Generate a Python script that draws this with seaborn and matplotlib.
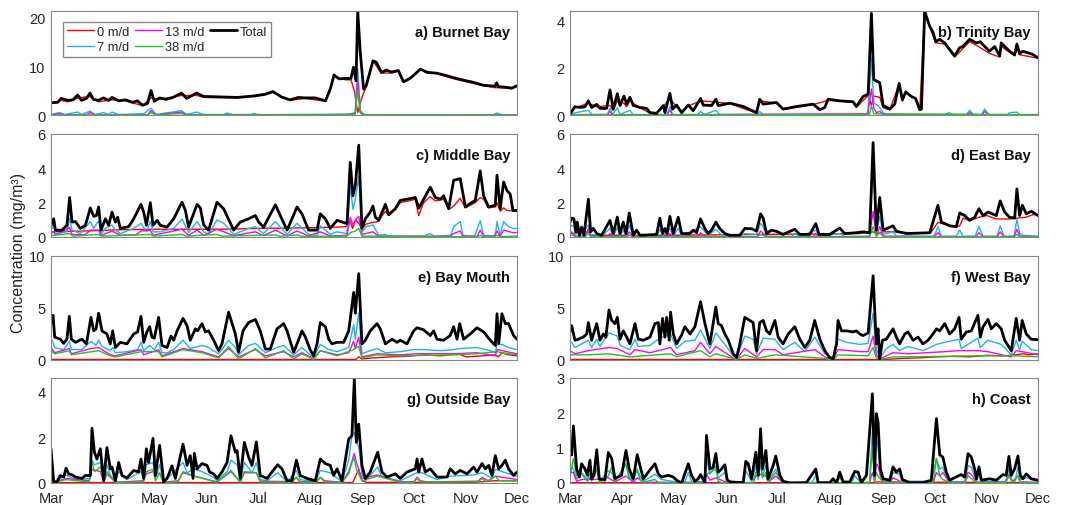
import numpy as np
import pandas as pd
import matplotlib
matplotlib.use("Agg")
import matplotlib.pyplot as plt
import matplotlib.dates as mdates
import seaborn as sns

# ---------------- data: (day since 1 Mar, concentration mg/m3) ----------------
A_TOTAL = [(0,2.5),(4,2.6),(6,3.4),(10,3.0),(13,3.1),(15.7,4.1),(18,3.0),(21,3.4),(23,4.5),(25,3.2),(28,3.0),(31,3.5),(34,3.0),(36,3.6),(40,2.9),(44,3.1),(48,2.6),(51,2.9),(54,2.0),(57,2.4),(59,5.0),(61,2.8),(64,3.5),(68,3.2),(72,3.6),(77,4.5),(80,3.4),(86,4.5),(90,3.8),(100,3.7),(110,3.6),(120,3.9),(126,4.2),(131,4.8),(136,3.7),(141,3.1),(146,3.6),(150,3.5),(156,3.5),(162,2.9),(165,5.5),(167,8.2),(170,7.4),(174,7.5),(177,7.5),(178.5,9.8),(180,7.0),(181,21.4),(182.5,12.8),(184.5,5.3),(186,6.0),(190,11.1),(192,10.8),(195,8.7),(198,9.2),(201,8.8),(205,9.1),(208,6.8),(212,7.5),(218,9.4),(222,8.7),(227,8.6),(232,8.2),(238,7.6),(245,7.0),(248,6.8),(250,6.6),(255,6.1),(262,5.9),(263,6.6),(264,5.8),(268,5.7),(272,5.5),(275,6.0)]
A_R0 = [(0,2.3),(6,3.0),(10,2.7),(15.7,3.5),(23,3.8),(28,2.7),(36,3.1),(44,2.9),(54,1.9),(59,3.5),(64,3.2),(77,4.0),(86,4.0),(90,3.6),(110,3.5),(131,4.6),(141,3.0),(150,3.4),(162,2.8),(167,7.8),(174,7.2),(177,7.2),(179,5.0),(181,0.5),(183,3.0),(184.5,4.5),(186,5.8),(190,11.0),(195,8.6),(201,8.6),(205,9.0),(208,6.7),(218,9.3),(227,8.5),(238,7.4),(245,6.8),(255,6.0),(262,5.6),(264,5.6),(272,5.4),(275,5.9)]
A_C7 = [(0,0.1),(5,0.5),(8,0.1),(15.7,0.6),(18,0.1),(23,0.8),(26,0.1),(31,0.5),(34,0.1),(36,0.6),(40,0.1),(50,0.2),(55,0.3),(59,1.4),(62,0.1),(77,0.9),(80,0.1),(86,0.6),(90,0.1),(102,0.1),(104,0.4),(107,0.1),(118,0.1),(120,0.3),(123,0.05),(150,0.1),(160,0.1),(176,0.2),(179.5,0.5),(181,9.5),(182.5,1.0),(184,0.3),(186,0.05),(230,0.05),(261,0.05),(263,0.4),(266,0.05),(275,0.05)]
A_M13 = [(0,0.05),(5,0.3),(8,0.05),(21,0.05),(23,0.5),(26,0.05),(57,0.05),(59,0.9),(62,0.05),(77,0.6),(80,0.05),(176,0.1),(179.5,0.3),(181,7.0),(182.5,0.6),(184,0.1),(186,0.02),(275,0.02)]
A_G38 = [(0,0.02),(57,0.02),(59,0.5),(62,0.02),(77,0.3),(80,0.02),(177,0.05),(179.5,0.2),(181,5.0),(182.5,0.4),(184,0.05),(275,0.02)]

B_TOTAL = [(0,0.05),(2.9,0.35),(5.9,0.32),(8.8,0.35),(10.8,0.6),(12.7,0.32),(15.7,0.45),(17.6,0.28),(21.5,0.28),(23.5,1.06),(25.4,0.25),(27.8,0.9),(29.4,0.4),(31.7,0.8),(33.3,0.46),(35.2,0.75),(37.2,0.4),(41.1,0.32),(45,0.28),(47,0.1),(50.9,0.07),(54.8,0.4),(55.8,0.1),(58.7,0.92),(60.3,0.25),(62.6,0.42),(65.6,0.1),(69.5,0.42),(72.4,0.18),(76.7,0.7),(78.3,0.42),(83.2,0.4),(85.7,0.67),(87.1,0.4),(93.9,0.5),(101.8,0.36),(109.6,0.1),(111.5,0.67),(113.5,0.46),(121.3,0.53),(125.2,0.25),(133.1,0.36),(142.9,0.46),(146.8,0.22),(149.7,0.32),(151.7,0.67),(158.5,0.6),(166.3,0.56),(168.3,0.36),(172.2,0.78),(175.2,0.88),(177.1,4.3),(178.5,1.5),(180,1.44),(182,1.37),(184,0.4),(187.9,0.25),(190.8,0.46),(193.4,1.34),(195.3,0.64),(197.3,0.98),(200.6,0.78),(203.1,0.7),(205.5,0.22),(206.5,0.25),(208.4,4.38),(211.4,3.75),(213.3,3.5),(214.9,3.1),(217.2,3.2),(220.2,3.05),(223.1,2.77),(226,2.5),(229,2.85),(230.9,2.9),(234.8,3.2),(238.8,3.05),(241.1,3.1),(243.6,2.9),(246.6,2.7),(249.5,2.9),(252.5,2.5),(253.4,3.05),(255.4,2.9),(258.3,2.7),(261.3,2.55),(262.6,3.0),(264.2,2.6),(266.1,2.7),(269.1,2.63),(272,2.56),(275,2.42)]
B_R0 = [(0,0.05),(3,0.3),(10.8,0.5),(15.7,0.35),(23.5,0.4),(25.4,0.2),(27.8,0.6),(31.7,0.5),(33.3,0.35),(35.2,0.6),(41.1,0.3),(47,0.08),(51,0.06),(54.8,0.35),(58.7,0.7),(62.6,0.35),(65.6,0.08),(69.5,0.38),(76.7,0.6),(85.7,0.55),(93.9,0.48),(109.6,0.08),(111.5,0.6),(121.3,0.5),(125.2,0.23),(142.9,0.44),(151.7,0.62),(166.3,0.54),(168.3,0.33),(175.2,0.82),(177.1,0.4),(178.5,0.8),(182,0.75),(184,0.3),(187.9,0.22),(193.4,1.3),(195.3,0.6),(197.3,0.95),(203.1,0.68),(205.5,0.2),(208.4,4.3),(214.9,3.05),(220.2,3.0),(226,2.45),(234.8,3.1),(238.8,2.95),(246.6,2.6),(252.5,2.45),(253.4,2.9),(261.3,2.5),(262.6,2.85),(264.2,2.55),(275,2.4)]
B_C7 = [(0,0.05),(10.8,0.2),(13,0.02),(22,0.02),(23.5,0.3),(25,0.02),(27.8,0.3),(29.5,0.02),(35.2,0.2),(37,0.02),(57,0.02),(58.7,0.35),(60.3,0.02),(75,0.02),(76.7,0.15),(79,0.02),(85.7,0.2),(88,0.02),(110,0.02),(111.5,0.15),(113.5,0.02),(173,0.02),(175,0.1),(177.1,2.4),(178.5,0.5),(181,0.4),(184,0.1),(186,0.02),(220,0.02),(223,0.1),(225,0.02),(233,0.02),(234.8,0.2),(237,0.02),(242,0.02),(243.6,0.25),(246,0.02),(257,0.02),(258.3,0.1),(262.6,0.12),(264,0.02),(275,0.02)]
B_M13 = [(0,0.02),(22,0.02),(23.5,0.15),(25,0.01),(57,0.01),(58.7,0.2),(60.3,0.01),(175,0.05),(177.1,1.1),(178.5,0.3),(180,0.1),(182,0.15),(184,0.02),(233,0.01),(234.8,0.1),(237,0.01),(242,0.01),(243.6,0.15),(246,0.01),(275,0.01)]
B_G38 = [(0,0.01),(176,0.02),(177.1,0.4),(178.5,0.05),(275,0.01)]

C_TOTAL = [(0,0.68),(1.6,1.06),(2.6,0.4),(6.5,0.4),(9.4,0.68),(11,2.3),(12.4,0.87),(14.4,0.9),(17.3,0.5),(20.3,0.68),(23.2,1.7),(25.2,1.2),(26.8,1.25),(28.1,1.75),(29.5,0.4),(32.1,1.06),(34,0.68),(36,1.45),(38,0.87),(39.3,1.15),(40.9,0.5),(45.8,0.6),(48.8,1.06),(53.1,1.9),(54.7,1.45),(56.3,0.68),(58.6,2.0),(60.2,0.68),(62.6,0.97),(64.5,0.68),(68.5,0.58),(72.4,1.06),(77.3,2.03),(79.3,1.55),(81.2,0.58),(86.2,1.9),(88.1,1.7),(90.1,0.7),(93,0.4),(98,2.03),(101.9,1.64),(107.8,0.4),(111.7,0.87),(116.6,1.06),(120.6,1.25),(122.5,0.87),(125.5,0.58),(132.4,1.88),(135.3,1.25),(139.3,0.4),(145.2,1.75),(148.1,1.35),(152,0.4),(157,0.4),(158.9,1.35),(161.9,1.06),(164.8,0.5),(168.8,0.97),(174.7,0.78),(176.6,4.35),(178.2,2.4),(179.6,3.0),(181.6,5.35),(183.5,0.5),(185.5,1.06),(188.4,1.45),(190,1.8),(191.4,1.16),(193.4,0.97),(197.3,1.9),(199.3,1.3),(203.2,1.65),(206.1,2.13),(211.1,2.22),(215,2.3),(217,1.68),(219.9,2.2),(223.8,2.9),(226.8,2.3),(229.7,2.2),(231.7,2.4),(234.7,1.65),(237.6,3.3),(241.5,3.4),(244.5,1.75),(247.4,1.95),(250.4,2.13),(253.3,3.85),(255.3,2.4),(258.2,1.75),(262.2,1.85),(263.2,3.6),(265.1,1.65),(267.1,3.2),(269.1,2.7),(271,2.5),(272.6,1.55),(275,1.55)]
C_R0 = [(0,0.3),(20,0.35),(40,0.42),(60,0.45),(80,0.45),(100,0.45),(120,0.5),(140,0.52),(160,0.55),(174,0.6),(176.6,0.9),(178,0.5),(179.6,1.0),(181.6,0.8),(183.5,0.5),(186,0.75),(190,0.85),(193,0.9),(197.3,1.5),(199.3,1.25),(203.2,1.6),(206.1,2.0),(211.1,2.1),(215,2.2),(217,1.25),(219.9,2.0),(223.8,2.35),(226.8,2.1),(231.7,2.2),(234.7,1.6),(237.6,1.8),(241.5,2.25),(244.5,1.7),(250.4,2.0),(253.3,2.3),(255.3,2.2),(258.2,1.7),(262.2,1.75),(263.2,2.0),(265.1,1.5),(267.1,1.7),(269.1,1.55),(275,1.5)]
C_C7 = [(0,0.4),(1.6,0.7),(2.6,0.2),(9.4,0.3),(11,1.1),(12.4,0.4),(17.3,0.2),(23.2,0.9),(25.2,0.5),(28.1,0.95),(29.5,0.15),(32.1,0.5),(36,0.7),(38,0.4),(40.9,0.2),(48.8,0.5),(53.1,0.8),(56.3,0.3),(58.6,0.9),(60.2,0.3),(64.5,0.3),(72.4,0.5),(77.3,1.05),(81.2,0.25),(86.2,0.9),(90.1,0.3),(93,0.15),(98,1.0),(101.9,0.8),(107.8,0.15),(116.6,0.5),(120.6,0.6),(125.5,0.2),(132.4,0.9),(139.3,0.15),(145.2,0.8),(152,0.15),(157,0.1),(158.9,0.65),(164.8,0.15),(168.8,0.3),(174.7,0.2),(176.6,3.0),(178.2,1.6),(179.6,2.2),(181.6,3.5),(183.5,0.3),(186,0.6),(190,0.7),(193.4,0.1),(197.3,0.15),(199.3,0.05),(220,0.05),(223.8,0.2),(226,0.05),(236,0.1),(237.6,0.6),(241.5,0.9),(243,0.1),(250,0.05),(253.3,0.95),(255.3,0.1),(262.2,0.05),(263.2,0.9),(265,0.1),(267.1,0.9),(270,0.6),(272.6,0.5),(275,0.5)]
C_M13 = [(0,0.2),(1.6,0.3),(2.6,0.1),(11,0.55),(12.4,0.15),(20,0.12),(23.2,0.4),(28.1,0.4),(29.5,0.08),(36,0.35),(40.9,0.1),(50,0.12),(53.1,0.35),(58.6,0.4),(60.2,0.1),(77.3,0.45),(81.2,0.1),(86.2,0.4),(90.1,0.1),(98,0.45),(107.8,0.08),(120.6,0.3),(125.5,0.08),(132.4,0.4),(139.3,0.06),(145.2,0.35),(152,0.06),(158.9,0.3),(164.8,0.06),(174.7,0.1),(176.6,1.15),(178.2,0.7),(179.6,1.0),(181.6,1.2),(183.5,0.15),(190,0.3),(193.4,0.04),(235.5,0.04),(237.6,0.2),(241.5,0.35),(243,0.04),(251.5,0.04),(253.3,0.4),(255.3,0.04),(261.5,0.04),(263.2,0.35),(265,0.04),(267.1,0.4),(272.6,0.25),(275,0.25)]
C_G38 = [(0,0.08),(11,0.2),(13,0.05),(28.1,0.15),(30,0.05),(58.6,0.15),(60.5,0.05),(77.3,0.15),(79.5,0.05),(98,0.15),(101,0.05),(132.4,0.12),(135,0.04),(145.2,0.12),(148,0.04),(174.7,0.05),(176.6,0.25),(179.6,0.35),(181.6,0.5),(183.5,0.05),(230,0.02),(251.5,0.02),(253.3,0.1),(255,0.02),(261.5,0.02),(263.2,0.1),(265,0.03),(275,0.05)]

D_TOTAL = [(0,0.87),(1,1.1),(2.3,1.05),(3.5,0.3),(4.3,0.87),(5.5,0.1),(6.8,0.58),(8.2,0.1),(10.8,2.2),(12.1,0.3),(13.7,0.5),(15.7,0.2),(18.6,0.1),(23.5,0.97),(25.4,0.2),(27.8,1.16),(29.4,0.2),(31.3,0.87),(32.9,0.2),(34.8,1.4),(37.2,0.1),(39.1,0.4),(41.1,0.1),(50.9,0.15),(52.8,1.1),(54.4,0.2),(55.8,0.5),(57.1,0.2),(58.7,1.2),(60.7,0.2),(63.6,1.15),(65.6,0.2),(70.5,0.2),(72.4,0.4),(74.4,0.25),(76.7,1.06),(79.3,0.48),(81.2,0.2),(83.2,0.4),(85.7,0.87),(88.1,0.48),(91,0.2),(93.9,0.1),(99.8,0.1),(102.7,0.5),(106.7,0.48),(109.6,0.35),(112,1.35),(113.5,1.1),(115.5,0.2),(118.4,0.4),(121.3,0.33),(125.2,0.15),(132.1,0.45),(135,0.15),(140.9,0.15),(144.4,0.78),(146.4,0.15),(152.6,0.15),(158.5,0.52),(161.5,0.2),(168.3,0.25),(172.2,0.3),(176.1,0.25),(178.1,5.5),(180,0.4),(182,2.3),(184,0.4),(189.8,0.65),(191.8,0.33),(197.7,0.2),(211.4,0.25),(216.2,1.85),(218.2,0.87),(223.1,0.65),(227,0.6),(229,1.4),(231.9,1.25),(234.8,0.97),(237.8,1.15),(240.3,1.65),(242.7,1.25),(245.6,1.45),(250.5,1.25),(252.8,2.1),(255.4,1.45),(258.3,1.15),(261.3,1.1),(262.6,2.8),(264.2,1.25),(265.8,1.85),(268.1,1.35),(271.1,1.5),(275,1.25)]
D_R0 = [(0,0.2),(10.8,0.3),(12,0.1),(60,0.1),(112,0.15),(170,0.2),(178.1,0.3),(180,0.2),(184,0.3),(190,0.3),(200,0.25),(212,0.25),(216.2,0.85),(220,0.75),(227,0.6),(229,0.65),(231,1.1),(235,0.95),(240.3,1.15),(245,1.25),(250.5,1.05),(253,1.05),(258,1.05),(262.6,1.1),(268,1.15),(272,1.3),(275,1.3)]
D_C7 = [(0,0.7),(2.3,0.6),(3.5,0.15),(4.3,0.5),(5.5,0.05),(10.8,0.7),(12.1,0.15),(18.6,0.05),(23.5,0.5),(25.4,0.05),(27.8,0.55),(29.4,0.05),(31.3,0.4),(32.9,0.05),(34.8,0.7),(37.2,0.05),(50.9,0.05),(52.8,0.45),(54.4,0.05),(58.7,0.5),(60.7,0.05),(63.6,0.5),(65.6,0.05),(76.7,0.6),(79.3,0.3),(81.2,0.1),(85.7,0.45),(88.1,0.2),(91,0.05),(100,0.05),(102.7,0.2),(109.6,0.15),(112,0.8),(113.5,0.6),(115.5,0.05),(130,0.03),(132.1,0.2),(135,0.03),(144.4,0.4),(146.4,0.03),(158.5,0.2),(161.5,0.03),(176,0.05),(178.1,4.5),(180,0.2),(182,1.2),(184,0.15),(189.8,0.3),(192,0.05),(214,0.05),(216.2,0.6),(218.2,0.05),(227,0.05),(229,0.4),(231,0.05),(238,0.05),(240.3,0.6),(242.7,0.05),(251,0.05),(252.8,0.65),(255,0.05),(261,0.05),(262.6,1.05),(264.2,0.2),(266,0.1),(275,0.05)]
D_M13 = [(0,0.35),(3.5,0.05),(9,0.05),(10.8,0.5),(12.1,0.05),(22,0.02),(23.5,0.2),(25.4,0.02),(33,0.02),(34.8,0.3),(37.2,0.02),(57,0.02),(58.7,0.2),(60.7,0.02),(75,0.02),(76.7,0.25),(79.3,0.02),(110,0.02),(112,0.35),(115.5,0.02),(142.5,0.02),(144.4,0.15),(146.4,0.02),(176,0.02),(178.1,1.5),(180,0.1),(182,0.6),(184,0.05),(214,0.02),(216.2,0.25),(218.2,0.02),(238.5,0.02),(240.3,0.25),(242.7,0.02),(251,0.02),(252.8,0.3),(255,0.02),(261,0.02),(262.6,0.45),(264.2,0.05),(275,0.02)]
D_G38 = [(0,0.15),(3.5,0.02),(9,0.02),(10.8,0.2),(12.1,0.02),(33,0.01),(34.8,0.1),(37.2,0.01),(110,0.01),(112,0.15),(115.5,0.01),(176,0.01),(178.1,0.6),(180,0.03),(182,0.25),(184,0.02),(261,0.01),(262.6,0.15),(264,0.01),(275,0.01)]

E_TOTAL = [(0,3.5),(1.2,4.3),(2.2,2.2),(5.5,2.0),(7.5,1.6),(9.4,2.0),(10.8,4.2),(12,2.0),(14.4,1.7),(18.3,2.0),(20.9,1.55),(23.6,4.1),(25.2,2.8),(26.6,3.0),(28.1,4.5),(30.1,2.8),(33,2.5),(35,1.55),(36.4,2.8),(38,1.2),(40.9,1.7),(44.8,1.55),(48.8,2.5),(51.1,2.7),(53.1,4.2),(54.7,1.7),(56.6,2.7),(58.2,3.2),(59.6,2.2),(61,2.1),(63.5,4.1),(65.5,1.4),(68.5,1.2),(70.8,2.3),(72.4,1.9),(74.4,2.8),(77.9,4.0),(80.3,3.3),(82.2,1.9),(85.2,3.0),(86.5,2.8),(89.1,3.5),(91.1,2.7),(93,2.8),(96,1.9),(98.9,0.9),(100.9,1.55),(104.8,4.6),(108.8,2.5),(110.7,0.75),(113.3,2.8),(116.6,3.6),(120.6,3.9),(123.5,2.8),(126.5,1.05),(129.4,1.05),(133.4,3.0),(137.3,3.5),(139.3,2.8),(143.2,0.75),(145.2,1.55),(148.1,2.8),(150.1,2.2),(153,0.97),(155,0.4),(157,1.55),(158.9,3.6),(161.9,3.2),(163.9,2.0),(165.8,1.55),(168.8,1.7),(172.7,1.7),(175.7,2.8),(178.6,6.5),(179.6,4.5),(181.6,8.3),(183.5,1.55),(185.5,1.9),(188.4,2.8),(192.4,3.5),(194.3,3.0),(197.3,1.55),(201.2,2.0),(204.2,1.7),(206.1,1.9),(210.1,1.55),(214,2.8),(216,3.1),(219.9,2.9),(223.8,2.35),(225.8,2.8),(227.8,2.0),(231.7,1.9),(235.6,2.35),(237.6,3.2),(239.6,2.0),(241.2,3.5),(243.5,2.0),(247.4,2.5),(251.4,3.1),(255.3,2.7),(259.2,1.9),(262.2,1.4),(263.2,4.45),(264.2,1.6),(266.1,4.45),(268.1,3.5),(270,3.5),(273,2.35),(275,2.0)]
E_R0 = [(0,0.05),(180,0.05),(181.6,0.3),(183.5,0.1),(190,0.2),(200,0.3),(210,0.35),(220,0.5),(230,0.4),(240,0.6),(245,0.3),(255,0.4),(262,0.5),(264,0.3),(266,0.7),(270,0.5),(275,0.4)]
E_C7 = [(0,2.0),(1.2,1.7),(2.2,1.2),(7.5,1.0),(10.8,1.8),(12,1.0),(18.3,1.0),(23.6,1.8),(26.6,1.4),(28.1,1.9),(30.1,1.3),(35,0.9),(36.4,1.2),(38,0.7),(44.8,0.8),(51.1,1.0),(53.1,1.7),(54.7,0.9),(58.2,1.4),(61,1.0),(63.5,1.7),(65.5,0.7),(68.5,0.7),(72.4,1.0),(77.9,1.9),(82.2,1.1),(89.1,1.4),(93,1.2),(98.9,0.6),(104.8,1.9),(108.8,1.2),(110.7,0.5),(116.6,1.4),(120.6,1.6),(126.5,0.7),(133.4,1.2),(137.3,1.4),(143.2,0.5),(148.1,1.2),(153,0.5),(155,0.3),(158.9,1.5),(163.9,1.0),(168.8,0.8),(175.7,1.2),(178.6,3.4),(179.6,2.0),(181.6,4.5),(183.5,0.6),(188.4,0.9),(192.4,1.1),(197.3,0.7),(206.1,0.8),(214,1.0),(220,1.0),(230,0.9),(237.6,1.0),(241.2,1.1),(251.4,1.2),(259.2,0.9),(262.2,0.7),(263.2,1.5),(266.1,1.5),(270,1.2),(275,1.0)]
E_M13 = [(0,1.2),(2.2,0.7),(10.8,1.1),(12,0.6),(23.6,1.1),(28.1,1.2),(35,0.5),(38,0.4),(53.1,1.0),(54.7,0.5),(63.5,1.0),(65.5,0.4),(77.9,1.1),(89.1,0.8),(98.9,0.3),(104.8,1.1),(110.7,0.3),(120.6,1.0),(126.5,0.4),(137.3,0.8),(143.2,0.3),(148.1,0.7),(155,0.15),(158.9,0.9),(168.8,0.5),(175.7,0.7),(178.6,1.8),(179.6,1.1),(181.6,2.2),(183.5,0.3),(192.4,0.6),(206.1,0.5),(216,0.6),(237.6,0.6),(251.4,0.7),(262.2,0.4),(263.2,1.0),(266.1,0.9),(275,0.6)]
E_G38 = [(0,0.9),(2.2,0.6),(10.8,0.9),(12,0.5),(28.1,0.9),(35,0.4),(38,0.3),(53.1,0.8),(63.5,0.8),(65.5,0.3),(77.9,1.0),(89.1,0.7),(98.9,0.2),(104.8,1.3),(110.7,0.1),(120.6,1.1),(126.5,0.2),(137.3,0.9),(143.2,0.1),(148.1,0.6),(155,0.05),(158.9,0.9),(168.8,0.4),(178.6,1.0),(181.6,1.3),(183.5,0.2),(192.4,0.5),(206.1,0.4),(237.6,0.5),(251.4,0.6),(263.2,0.8),(266.1,0.7),(275,0.5)]

F_TOTAL = [(0,2.7),(1,3.3),(2.9,1.9),(4.9,2.0),(7.8,2.2),(9.8,2.5),(10.8,3.6),(12.7,1.9),(15.7,3.5),(17.6,1.9),(19.6,2.5),(21.1,2.2),(22.9,4.8),(24.5,3.8),(26.4,3.5),(27.8,4.1),(29.4,2.0),(31.3,2.8),(33.3,2.2),(35.2,1.55),(38.2,3.5),(40.1,2.0),(43.1,1.9),(47,2.2),(49.9,3.5),(51.9,3.6),(52.8,1.55),(54.4,4.0),(55.8,2.2),(56.8,4.1),(58.3,1.9),(59.1,4.6),(60.7,2.5),(62.6,1.55),(65.6,2.4),(67.5,3.2),(70.5,2.5),(73.4,3.2),(76.7,5.6),(79.3,3.5),(82.2,1.55),(83.8,3.2),(85.7,5.1),(87.1,3.5),(89,3.3),(91,2.5),(93,1.9),(95.9,0.6),(97.9,0.25),(99.8,1.55),(102.7,4.1),(105.7,3.8),(107.6,3.6),(109.6,0.9),(111.5,3.6),(113.5,3.8),(115.5,2.8),(117.4,2.5),(120.4,3.8),(122.3,2.2),(125.2,1.55),(128.2,2.5),(132.1,3.2),(135,2.0),(138,1.2),(140.9,1.9),(143.8,3.8),(146.8,2.0),(149.7,0.9),(152.6,0.25),(154.6,0.1),(156.6,1.55),(157.5,3.8),(159.5,2.8),(162.4,2.8),(166.3,2.7),(168.3,2.8),(170.3,2.5),(172.2,2.35),(175.2,2.6),(178.1,8.1),(180,1.55),(181,3.0),(182,0.1),(183.6,1.9),(185.9,2.0),(189.8,3.0),(191.8,2.2),(193.7,1.55),(196.7,2.5),(198.6,2.7),(201.6,1.9),(204.5,2.2),(207.4,1.55),(210.4,1.9),(213.3,2.5),(215.3,3.0),(217.2,2.8),(220.2,3.5),(223.1,2.5),(226,3.0),(228.6,4.1),(229.9,2.0),(232.9,2.7),(235.8,2.8),(239.7,4.3),(241.1,2.2),(242.7,3.2),(245.6,3.9),(247.6,3.0),(250.5,3.5),(253.4,3.0),(255.4,1.9),(259.3,0.9),(262.2,4.0),(264.2,1.9),(265.7,3.8),(268.1,2.5),(271,2.0),(275,1.95)]
F_R0 = [(0,0.05),(185,0.05),(195,0.15),(205,0.2),(215,0.3),(225,0.35),(235,0.3),(245,0.45),(255,0.4),(262,0.5),(266,0.6),(270,0.5),(275,0.6)]
F_C7 = [(0,1.8),(1,1.7),(2.9,1.2),(10.8,1.9),(12.7,1.2),(15.7,2.0),(17.6,1.3),(22.9,2.6),(27.8,2.3),(29.4,1.4),(35.2,1.0),(38.2,2.0),(40.1,1.3),(47,1.4),(51.9,2.0),(54.4,2.2),(59.1,2.5),(62.6,1.1),(67.5,1.8),(73.4,1.9),(76.7,2.9),(82.2,1.1),(85.7,2.6),(91,1.5),(95.9,0.4),(97.9,0.2),(102.7,2.3),(107.6,2.0),(109.6,0.6),(113.5,2.1),(120.4,2.0),(125.2,1.0),(132.1,1.7),(138,0.8),(143.8,2.2),(149.7,0.6),(154.6,0.1),(157.5,2.0),(162.4,1.7),(170.3,1.5),(175.2,1.6),(178.1,4.5),(180,1.0),(182,0.2),(185.9,1.1),(189.8,1.5),(193.7,0.9),(198.6,1.3),(207.4,0.9),(215.3,1.5),(220.2,1.7),(228.6,2.0),(229.9,1.1),(239.7,2.1),(241.1,1.2),(245.6,1.9),(253.4,1.5),(259.3,0.5),(262.2,1.9),(264.2,1.0),(265.7,1.8),(271,1.0),(275,0.9)]
F_M13 = [(0,0.9),(2.9,0.6),(10.8,0.9),(22.9,1.2),(27.8,1.1),(35.2,0.5),(38.2,1.0),(47,0.7),(54.4,1.0),(59.1,1.2),(62.6,0.5),(73.4,0.9),(76.7,1.7),(82.2,0.6),(85.7,1.3),(95.9,0.2),(97.9,0.1),(102.7,1.1),(109.6,0.3),(113.5,1.0),(120.4,1.0),(125.2,0.5),(143.8,1.0),(149.7,0.3),(154.6,0.05),(157.5,1.0),(170.3,0.8),(175.2,0.8),(178.1,2.3),(180,0.5),(182,0.1),(189.8,0.7),(198.6,0.6),(220.2,0.8),(228.6,0.9),(239.7,0.9),(245.6,0.8),(259.3,0.3),(262.2,0.9),(265.7,0.8),(275,0.5)]
F_G38 = [(0,0.5),(10.8,0.5),(22.9,0.6),(35.2,0.3),(59.1,0.6),(62.6,0.3),(76.7,0.9),(82.2,0.3),(85.7,0.6),(97.9,0.05),(102.7,0.5),(109.6,0.15),(120.4,0.5),(149.7,0.15),(154.6,0.02),(157.5,0.5),(175.2,0.4),(178.1,1.2),(180,0.2),(182,0.05),(189.8,0.3),(220.2,0.35),(239.7,0.4),(262.2,0.4),(275,0.3)]

G_TOTAL = [(0,1.5),(1.6,0.05),(3.5,0.05),(5.5,0.33),(7.5,0.26),(8.9,0.65),(10.4,0.4),(12.4,0.36),(14.4,0.26),(18.3,0.2),(20.3,0.33),(23.2,0.33),(24.2,2.4),(25.6,1.35),(27.1,1.05),(29.1,1.5),(31.1,0.1),(33,1.55),(35,0.62),(36,0.7),(38,0.1),(39.9,0.9),(41.9,0.33),(44.8,0.22),(48.8,0.55),(51.7,0.48),(53.1,1.05),(54.7,0.2),(56.3,1.5),(57.6,0.9),(60.2,1.95),(61.6,0.33),(64.1,1.65),(66.5,0.05),(68.5,0.2),(71.4,0.75),(73.4,0.2),(77.9,1.7),(80.3,0.77),(82.2,1.2),(83.8,0.2),(84.6,1.3),(86.2,0.62),(89.1,0.85),(92.1,0.77),(93.6,0.48),(96,0.4),(98,0.2),(100.9,0.48),(103.9,0.9),(106.2,2.07),(108.8,1.35),(109.8,1.42),(111.7,0.2),(114.1,1.78),(116.6,1.13),(118.6,0.77),(121.2,1.8),(123.5,0.33),(127.5,0.2),(130.4,0.48),(133.8,0.8),(136.3,0.62),(139.3,0.1),(142.2,0.1),(144.8,1.0),(147.1,0.33),(151.1,0.2),(156,0.1),(158.9,1.05),(161.9,0.85),(164.8,0.77),(166.8,0.33),(168.8,0.62),(171.7,0.1),(175.7,1.93),(177.6,2.07),(179,4.58),(180.2,1.78),(181.6,2.58),(183.5,0.77),(185.5,0.2),(188.4,0.48),(192.8,1.35),(195.3,0.48),(198.3,0.26),(203.2,0.4),(206.1,0.2),(210.1,0.48),(215,0.62),(216,1.05),(217,0.48),(218.9,1.05),(220.9,0.48),(223.8,0.62),(227.8,0.26),(233.7,0.26),(235.6,0.62),(238.6,0.4),(241.5,0.55),(245.5,0.4),(249.4,0.7),(251.4,0.48),(254.4,0.85),(256.3,0.62),(258.3,0.77),(260.2,0.33),(262.2,1.2),(264.2,0.62),(266.1,0.77),(268.1,1.0),(270,0.62),(273,0.33),(275,0.48)]
G_R0 = [(0,0.02),(178,0.02),(181.6,0.6),(183.5,0.1),(186,0.03),(250,0.03),(262,0.1),(275,0.1)]
G_C7 = [(0,0.6),(1.6,0.05),(5.5,0.2),(8.9,0.35),(14.4,0.15),(23.2,0.2),(24.2,1.0),(25.6,0.8),(29.1,0.9),(31.1,0.1),(33,0.8),(35,0.35),(38,0.05),(39.9,0.5),(44.8,0.15),(53.1,0.5),(54.7,0.1),(56.3,0.8),(60.2,0.9),(61.6,0.2),(64.1,0.8),(66.5,0.05),(71.4,0.4),(77.9,0.9),(80.3,0.45),(84.6,0.6),(89.1,0.5),(96,0.25),(98,0.1),(103.9,0.5),(106.2,1.0),(109.8,0.8),(111.7,0.1),(114.1,0.9),(118.6,0.45),(121.2,0.9),(123.5,0.15),(127.5,0.1),(133.8,0.45),(139.3,0.05),(144.8,0.55),(147.1,0.15),(156,0.05),(158.9,0.55),(164.8,0.45),(171.7,0.05),(175.7,1.0),(177.6,2.1),(179,2.2),(180.2,1.8),(181.6,1.6),(183.5,0.4),(185.5,0.1),(192.8,0.7),(195.3,0.25),(206.1,0.1),(216,0.45),(218.9,0.45),(227.8,0.15),(235.6,0.3),(249.4,0.35),(254.4,0.45),(260.2,0.2),(262.2,0.6),(268.1,0.45),(275,0.3)]
G_M13 = [(0,0.4),(1.6,0.03),(8.9,0.2),(22.5,0.1),(24.2,0.6),(29.1,0.5),(31.1,0.05),(33,0.4),(38,0.03),(54.5,0.1),(56.3,0.4),(60.2,0.5),(64.1,0.4),(66.5,0.03),(75,0.1),(77.9,0.45),(84.6,0.3),(98,0.05),(106.2,0.5),(111.7,0.05),(114.1,0.45),(121.2,0.45),(123.5,0.08),(142,0.06),(144.8,0.25),(147,0.06),(156.5,0.05),(158.9,0.25),(161.5,0.1),(171.7,0.03),(175.7,0.5),(179,1.3),(180.2,0.9),(181.6,0.6),(183.5,0.2),(192.8,0.35),(206.1,0.05),(214,0.05),(216,0.25),(218,0.1),(222,0.05),(252,0.08),(254.4,0.25),(258,0.1),(262.2,0.3),(275,0.15)]
G_G38 = [(0,0.5),(1.6,0.02),(8.9,0.15),(22.5,0.05),(24.2,0.9),(25.6,0.5),(29.1,0.7),(31.1,0.05),(33,0.5),(38,0.02),(54.5,0.05),(56.3,0.5),(60.2,0.6),(61.6,0.1),(64.1,0.45),(66.5,0.02),(75,0.05),(77.9,0.5),(84.6,0.3),(98,0.03),(106.2,0.55),(111.7,0.03),(114.1,0.5),(121.2,0.45),(123.5,0.05),(142,0.03),(144.8,0.25),(147,0.03),(156.5,0.03),(158.9,0.25),(161.5,0.05),(171.7,0.02),(175.7,0.4),(177.6,0.9),(179,1.1),(180.2,0.6),(183.5,0.1),(192.8,0.3),(206.1,0.03),(214,0.03),(216,0.2),(218,0.05),(252,0.05),(254.4,0.2),(257,0.05),(262.2,0.3),(264.5,0.1),(275,0.1)]

H_TOTAL = [(0,1.12),(1,0.8),(2,1.63),(3.9,0.4),(5.5,0.17),(6.8,0.55),(8.8,0.4),(10.2,0.22),(11.7,0.65),(12.7,0.12),(14.1,0.22),(15.7,0.95),(17.2,0.12),(20.5,0.08),(22.5,0.87),(24.5,0.7),(26.4,0.13),(30.3,0.22),(32.9,0.93),(34.8,0.4),(37.2,0.12),(39.5,0.81),(41.1,0.5),(43.1,0.12),(46,0.31),(49.9,0.55),(51.9,0.26),(53.8,0.17),(57.7,0.22),(60.7,0.17),(62.6,0.08),(65.6,0.0),(69.5,0.55),(71.4,0.22),(73.4,0.05),(75.3,0.12),(76.7,0.24),(79.3,0.01),(80.2,1.36),(82.2,0.4),(84.1,0.45),(85.7,0.84),(87.1,0.31),(89,0.4),(91,0.52),(92.4,0.08),(94.3,0.03),(101.8,0.01),(103.3,0.62),(104.7,0.55),(106.7,0.12),(109.2,0.88),(110.6,0.22),(112,1.55),(113.1,0.4),(115.1,0.93),(116.4,0.12),(119.4,0.5),(120.9,0.77),(123.3,0.22),(125.2,0.05),(129.2,0.0),(138.9,0.01),(144.4,0.4),(145.8,0.01),(152.6,0.01),(154.6,0.12),(156.6,0.0),(158.5,0.31),(160.5,0.03),(164.4,0.03),(167.3,0.33),(169.3,0.31),(171.2,0.01),(174.2,0.22),(177.7,2.55),(179,0.22),(180,1.98),(181,1.75),(182.4,0.4),(184,0.12),(187.9,0.08),(189.8,0.46),(191.8,0.31),(193.7,0.4),(195.3,0.1),(199.6,0.01),(207.4,0.01),(212.3,0.08),(215.3,1.84),(217.3,0.8),(219.1,0.74),(221.1,0.31),(223.1,0.08),(228,0.2),(229.9,0.24),(231.9,0.17),(233.9,0.84),(235.8,0.74),(237.8,0.4),(238.8,0.12),(240.3,0.46),(241.7,0.08),(246.6,0.12),(250.5,0.08),(254.4,0.24),(256.3,0.22),(257.9,0.76),(259.3,0.22),(261.3,0.41),(263.2,0.77),(264.6,0.22),(266.1,0.12),(268.1,0.26),(271.1,0.12),(275,0.08)]
H_R0 = [(0,0.01),(177,0.01),(180,0.03),(275,0.01)]
H_C7 = [(0,0.5),(1,0.45),(2,0.4),(3.9,0.1),(6.8,0.3),(10.2,0.1),(11.7,0.25),(12.7,0.05),(15.7,0.4),(17.2,0.05),(22.5,0.35),(24.5,0.3),(26.4,0.05),(32.9,0.55),(34.8,0.2),(37.2,0.05),(39.5,0.4),(41.1,0.2),(43.1,0.05),(49.9,0.25),(53.8,0.1),(62.6,0.03),(67.5,0.03),(69.5,0.3),(71.4,0.05),(78.5,0.03),(80.2,0.7),(82.2,0.25),(85.7,0.5),(87.1,0.15),(91,0.3),(92.4,0.03),(101.5,0.02),(103.3,0.35),(106.7,0.05),(109.2,0.5),(110.6,0.1),(112,0.6),(113.1,0.2),(115.1,0.5),(116.4,0.05),(120.9,0.4),(123.3,0.1),(125.2,0.02),(142,0.01),(144.4,0.2),(145.8,0.01),(156.5,0.01),(158.5,0.15),(160.5,0.01),(165.5,0.01),(167.3,0.2),(171.2,0.01),(176,0.02),(177.7,1.5),(179,0.15),(180,1.4),(181,1.0),(182.4,0.25),(184,0.05),(188,0.03),(189.8,0.3),(193.7,0.25),(195.3,0.05),(212.3,0.05),(215.3,0.7),(217.3,0.4),(219.1,0.45),(221.1,0.15),(223.1,0.04),(232,0.04),(233.9,0.5),(235.8,0.45),(238.8,0.05),(240.3,0.25),(241.7,0.04),(256,0.04),(257.9,0.4),(259.3,0.1),(261.5,0.05),(263.2,0.45),(264.6,0.1),(268.1,0.15),(275,0.05)]
H_M13 = [(0,0.45),(1,0.3),(2,0.3),(3.9,0.05),(6.8,0.1),(15.7,0.1),(22.5,0.15),(26.4,0.03),(32.9,0.2),(37.2,0.02),(39.5,0.15),(43.1,0.02),(78.5,0.02),(80.2,0.25),(82.2,0.08),(85.7,0.15),(92.4,0.01),(107.5,0.01),(109.2,0.2),(112,0.25),(115.1,0.2),(116.4,0.02),(120.9,0.2),(125.2,0.01),(176,0.01),(177.7,0.3),(179,0.05),(180,0.55),(181,0.5),(182.4,0.2),(184,0.03),(188,0.02),(189.8,0.15),(195.3,0.02),(213.5,0.02),(215.3,0.3),(217.3,0.2),(219.1,0.3),(223.1,0.02),(232,0.02),(233.9,0.3),(235.8,0.25),(238.8,0.02),(256,0.02),(257.9,0.25),(260,0.03),(263.2,0.2),(264.6,0.03),(275,0.02)]
H_G38 = [(0,0.15),(2,0.7),(3.9,0.2),(6.8,0.25),(10.2,0.05),(15.7,0.4),(17.2,0.02),(22.5,0.2),(24.5,0.45),(26.4,0.02),(32.9,0.55),(34.8,0.1),(39.5,0.35),(41.1,0.1),(43.1,0.02),(49.9,0.1),(52,0.01),(78.5,0.01),(80.2,0.25),(85.7,0.4),(87.1,0.05),(89,0.01),(107.5,0.01),(109.2,0.3),(112,0.5),(113.1,0.15),(115.1,0.3),(116.4,0.02),(120.9,0.3),(125.2,0.01),(176,0.01),(177.7,0.95),(179,0.05),(180,0.3),(181,0.2),(184,0.02),(213.5,0.01),(215.3,0.7),(217.3,0.2),(219.1,0.1),(223.1,0.01),(232,0.01),(233.9,0.2),(238.8,0.01),(256,0.01),(257.9,0.2),(260,0.01),(263.2,0.2),(264.6,0.01),(275,0.01)]

TITLES = ["a) Burnet Bay", "b) Trinity Bay", "c) Middle Bay", "d) East Bay",
          "e) Bay Mouth", "f) West Bay", "g) Outside Bay", "h) Coast"]
YMAX = [21.3, 4.4, 6, 6, 10, 10, 4.6, 3]
YTICKS = [[0, 10, 20], [0, 2, 4], [0, 2, 4, 6], [0, 2, 4, 6],
          [0, 5, 10], [0, 5, 10], [0, 2, 4], [0, 1, 2, 3]]
SERIES_LABELS = ["0 m/d", "7 m/d", "13 m/d", "38 m/d", "Total"]
START_DATE = "2015-03-01"

PANEL_DATA = [
    (A_R0, A_C7, A_M13, A_G38, A_TOTAL),
    (B_R0, B_C7, B_M13, B_G38, B_TOTAL),
    (C_R0, C_C7, C_M13, C_G38, C_TOTAL),
    (D_R0, D_C7, D_M13, D_G38, D_TOTAL),
    (E_R0, E_C7, E_M13, E_G38, E_TOTAL),
    (F_R0, F_C7, F_M13, F_G38, F_TOTAL),
    (G_R0, G_C7, G_M13, G_G38, G_TOTAL),
    (H_R0, H_C7, H_M13, H_G38, H_TOTAL),
]

# ---------------- style ----------------
sns.set_theme(style="white")
plt.rcParams["font.family"] = ["Liberation Sans", "DejaVu Sans"]
COLORS = ["#ff0000", "#1ab4f5", "#ff00ff", "#19c819", "#000000"]
WIDTHS = [1.0, 1.0, 1.0, 1.0, 2.0]
start = pd.Timestamp(START_DATE)


def to_frame(pairs):
    d, v = zip(*pairs)
    return pd.DataFrame({"date": start + pd.to_timedelta(np.array(d, dtype=float), unit="D"),
                         "value": np.array(v, dtype=float)})


fig = plt.figure(figsize=(10.67, 5.06), dpi=100)
lefts = [51 / 1067, 570 / 1067]
widths = [466 / 1067, 468 / 1067]
rows = [(12, 116), (135, 238), (257, 361), (379, 484)]

for i, series in enumerate(PANEL_DATA):
    r, c = divmod(i, 2)
    top, bot = rows[r]
    ax = fig.add_axes([lefts[c], 1 - bot / 506, widths[c], (bot - top) / 506])
    for j, pairs in enumerate(series):
        df = to_frame(pairs)
        kw = dict(label=SERIES_LABELS[j]) if i == 0 else {}
        sns.lineplot(data=df, x="date", y="value", ax=ax, color=COLORS[j],
                     linewidth=WIDTHS[j], sort=True, estimator=None, **kw)
    ax.set_xlim(start, start + pd.Timedelta(days=275))
    ax.set_ylim(0, YMAX[i])
    ax.set_yticks(YTICKS[i])
    ax.xaxis.set_major_locator(mdates.MonthLocator())
    ax.xaxis.set_major_formatter(mdates.DateFormatter("%b"))
    ax.set_xlabel("")
    ax.set_ylabel("")
    ax.tick_params(axis="both", direction="in", length=3, width=0.6, color="#555555",
                   labelsize=10.5, labelcolor="#262626")
    ax.tick_params(axis="x", pad=6)
    ax.tick_params(axis="y", pad=4)
    if r < 3:
        ax.tick_params(axis="x", labelbottom=False)
    for sp in ax.spines.values():
        sp.set_color("#888888")
        sp.set_linewidth(0.8)
    ax.text(0.985, 0.80, TITLES[i], transform=ax.transAxes, ha="right", va="center",
            fontsize=10.5, fontweight="bold", color="#111111")
    if i == 0:
        h, l = ax.get_legend_handles_labels()
        ax.legend(h, l, ncol=3, loc="upper left", bbox_to_anchor=(0.026, 0.895),
                  fontsize=9.3, frameon=True, fancybox=False, edgecolor="#888888",
                  framealpha=1, handlelength=2.1, handletextpad=0.25,
                  columnspacing=0.4, borderpad=0.3, labelspacing=0.25,
                  borderaxespad=0)
    else:
        lg = ax.get_legend()
        if lg is not None:
            lg.remove()

fig.text(0.017, 0.5, "Concentration (mg/m³)", rotation=90, ha="center", va="center",
         fontsize=11.5, color="#262626")

fig.savefig("out.png", dpi=100)
